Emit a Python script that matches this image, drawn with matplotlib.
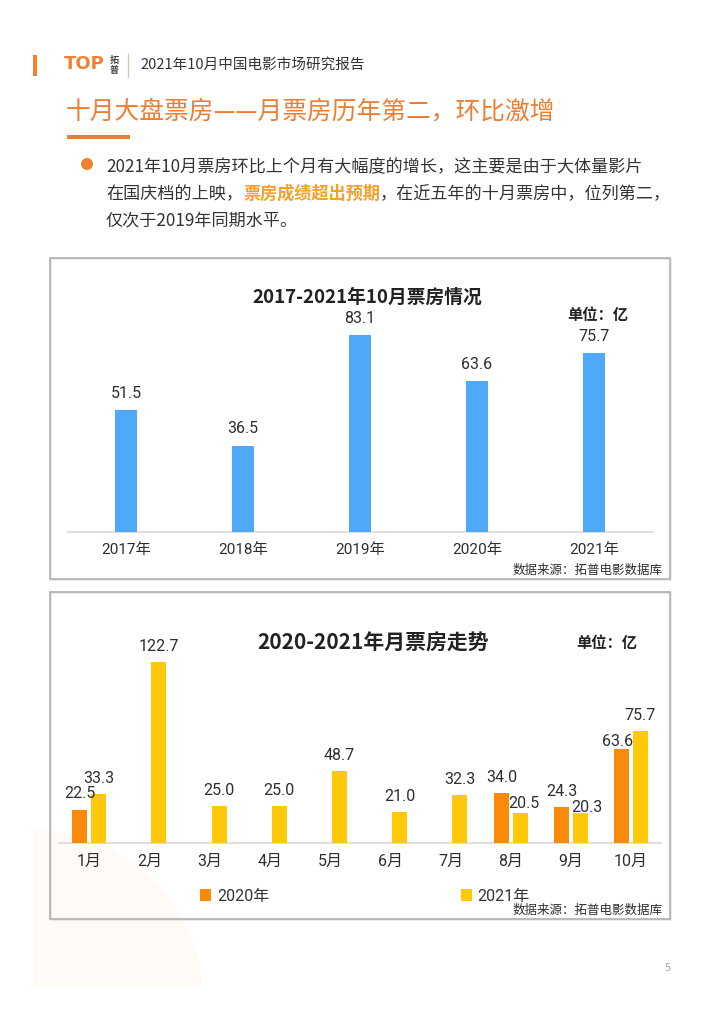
import matplotlib
matplotlib.use("Agg")
import matplotlib.pyplot as plt
from matplotlib.patches import Rectangle, Circle
import numpy as np

plt.rcParams['font.family'] = ['Noto Sans CJK SC', 'DejaVu Sans']

# ---- data ----
years = ['2017年', '2018年', '2019年', '2020年', '2021年']
oct_box = [51.5, 36.5, 83.1, 63.6, 75.7]

months = ['1月', '2月', '3月', '4月', '5月', '6月', '7月', '8月', '9月', '10月']
box_2020 = [22.5, np.nan, np.nan, np.nan, np.nan, np.nan, np.nan, 34.0, 24.3, 63.6]
box_2021 = [33.3, 122.7, 25.0, 25.0, 48.7, 21.0, 32.3, 20.5, 20.3, 75.7]
series_names = ['2020年', '2021年']

# label nudges (points) where the original moved crowded labels
nudge_2020 = {9: (-3, -6)}
nudge_2021 = {7: (3, -5), 8: (5, -7.5)}

ORANGE = '#ED7D31'
BLUE = '#4EAAF8'
C2020 = '#FA8A0A'
C2021 = '#FFC90A'
TXT = '#333333'
TICK = '#2E2E2E'
NUMFONT = ['Roboto', 'Noto Sans CJK SC', 'DejaVu Sans']
NUMWEIGHT = 'normal'

W, H = 724, 1024
fig = plt.figure(figsize=(W / 100, H / 100), dpi=100)
fig.patch.set_facecolor('white')


def fx(px):
    return px / W


def fy(py):
    return 1 - py / H


# faint decorative circle, lower left
deco = Circle((0.33, 0.24), 1.70, transform=fig.dpi_scale_trans,
              facecolor='#FFFAF6', edgecolor='none', zorder=-5)
clip = Rectangle((0.33, 0.37), 3.0, 3.0, transform=fig.dpi_scale_trans)
deco.set_clip_path(clip)
fig.patches.append(deco)

# ---- header ----
fig.patches.append(Rectangle((fx(33), fy(76)), fx(4), 21 / H, transform=fig.transFigure,
                             facecolor='#F08232', edgecolor='none'))
fig.text(fx(64), fy(64), 'TOP', color='#F08232', fontsize=13, fontweight='bold',
         family=['DejaVu Sans'], va='center', ha='left')
fig.text(fx(114), fy(60), '拓', color='#444444', fontsize=6.5, fontweight='bold', ha='center', va='center')
fig.text(fx(114), fy(71), '普', color='#444444', fontsize=6.5, fontweight='bold', ha='center', va='center')
fig.lines.append(plt.Line2D([fx(128), fx(128)], [fy(54), fy(77)], transform=fig.transFigure,
                            color='#D8C8BC', lw=1))
fig.text(fx(140), fy(65), '2021年10月中国电影市场研究报告', color=TXT, fontsize=10.5,
         va='center', ha='left')

fig.text(fx(66), fy(112), '十月大盘票房——月票房历年第二，环比激增', color=ORANGE,
         fontsize=17.8, va='center', ha='left')
fig.patches.append(Rectangle((fx(67), fy(139)), fx(63), 4.5 / H, transform=fig.transFigure,
                             facecolor=ORANGE, edgecolor='none'))

# bullet paragraph
fig.patches.append(Circle((0.87, (H - 164) / 100), 0.06, transform=fig.dpi_scale_trans,
                          facecolor='#F08232', edgecolor='none'))

renderer = fig.canvas.get_renderer()


def write_runs(x, y, runs, size=12.3):
    for s, color, weight in runs:
        t = fig.text(x, y, s, color=color, fontweight=weight, fontsize=size,
                     va='center', ha='left')
        bb = t.get_window_extent(renderer=renderer)
        x += bb.width / fig.bbox.width


write_runs(fx(106), fy(167), [('2021年10月票房环比上个月有大幅度的增长，这主要是由于大体量影片', TXT, 'normal')])
write_runs(fx(106), fy(194), [('在国庆档的上映，', TXT, 'normal'),
                              ('票房成绩超出预期', '#F5A02A', 'bold'),
                              ('，在近五年的十月票房中，位列第二，', TXT, 'normal')])
write_runs(fx(106), fy(220), [('仅次于2019年同期水平。', TXT, 'normal')])


# ---- chart frames ----
def frame(x0, y0, x1, y1):
    fig.patches.append(Rectangle((fx(x0 + 1), fy(y1 + 1)), fx(x1 - x0), (y1 - y0) / H,
                                 transform=fig.transFigure, facecolor='none',
                                 edgecolor='#E6E6E6', lw=1.2, zorder=1))
    fig.patches.append(Rectangle((fx(x0), fy(y1)), fx(x1 - x0), (y1 - y0) / H,
                                 transform=fig.transFigure, facecolor='none',
                                 edgecolor='#B0B0B0', lw=1.2, zorder=2))


frame(50, 258, 670, 579)
frame(50, 592, 670, 919)

# ---- top chart: October box office by year ----
ax1 = fig.add_axes([fx(67.5), fy(532), fx(585), (532 - 300) / H])
ax1.set_facecolor('none')
x1 = np.arange(len(years))
bars1 = ax1.bar(x1, oct_box, width=0.18, color=BLUE, zorder=3)
for b, v in zip(bars1, oct_box):
    ax1.annotate(f'{v:.1f}', (b.get_x() + b.get_width() / 2, v), xytext=(0, 6.5),
                 textcoords='offset points', ha='center', va='bottom',
                 fontsize=11.5, color=TICK, fontweight=NUMWEIGHT, family=NUMFONT)
ax1.set_xlim(-0.5, len(years) - 0.5)
ax1.set_ylim(0, 97.9)
ax1.set_xticks(x1)
ax1.set_xticklabels(years, fontsize=11, color=TICK, fontweight=NUMWEIGHT, family=NUMFONT)
ax1.tick_params(axis='x', length=0, pad=8)
ax1.set_yticks([])
for s in ['top', 'left', 'right']:
    ax1.spines[s].set_visible(False)
ax1.spines['bottom'].set_color('#D9D9D9')
ax1.spines['bottom'].set_linewidth(1.2)

fig.text(fx(367), fy(297), '2017-2021年10月票房情况', fontsize=13.5, fontweight='bold',
         color='#222222', ha='center', va='center')
fig.text(fx(598), fy(315), '单位：亿', fontsize=11, fontweight='bold', color='#222222',
         ha='center', va='center')
fig.text(fx(663), fy(570), '数据来源：拓普电影数据库', fontsize=9, color=TICK,
         ha='right', va='center')

# ---- bottom chart: monthly box office 2020 vs 2021 ----
ax2 = fig.add_axes([fx(59.2), fy(843), fx(602), (843 - 640) / H])
ax2.set_facecolor('none')
x2 = np.arange(len(months))
bw = 0.25
off = 0.155
bars_a = ax2.bar(x2 - off, box_2020, width=bw, color=C2020, zorder=3, label=series_names[0])
bars_b = ax2.bar(x2 + off, box_2021, width=bw, color=C2021, zorder=3, label=series_names[1])
for bars, vals, nudge in [(bars_a, box_2020, nudge_2020), (bars_b, box_2021, nudge_2021)]:
    for i, (b, v) in enumerate(zip(bars, vals)):
        if np.isnan(v):
            continue
        dx, dy = nudge.get(i, (0, 0))
        ax2.annotate(f'{v:.1f}', (b.get_x() + b.get_width() / 2, v), xytext=(dx, 6 + dy),
                     textcoords='offset points', ha='center', va='bottom',
                     fontsize=11.5, color=TICK, fontweight=NUMWEIGHT, family=NUMFONT)
ax2.set_xlim(-0.5, 9.5)
ax2.set_ylim(0, 137.6)
ax2.set_xticks(x2)
ax2.set_xticklabels(months, fontsize=11.5, color=TICK, fontweight=NUMWEIGHT, family=NUMFONT)
ax2.tick_params(axis='x', length=0, pad=8)
ax2.set_yticks([])
for s in ['top', 'left', 'right']:
    ax2.spines[s].set_visible(False)
ax2.spines['bottom'].set_color('#D9D9D9')
ax2.spines['bottom'].set_linewidth(1.2)

fig.text(fx(373), fy(643), '2020-2021年月票房走势', fontsize=15, fontweight='bold',
         color='#222222', ha='center', va='center')
fig.text(fx(607), fy(643), '单位：亿', fontsize=11, fontweight='bold', color='#222222',
         ha='center', va='center')

leg = ax2.legend(handles=[bars_a, bars_b], labels=series_names, loc='center left',
                 bbox_to_anchor=(fx(200), fy(896)), bbox_transform=fig.transFigure,
                 ncol=2, frameon=False, handlelength=0.7, handleheight=0.7,
                 handletextpad=0.35, columnspacing=12.0, borderpad=0, borderaxespad=0,
                 prop={'family': NUMFONT, 'weight': NUMWEIGHT, 'size': 11.5})
for t in leg.get_texts():
    t.set_color(TXT)

fig.text(fx(663), fy(910), '数据来源：拓普电影数据库', fontsize=9, color=TICK,
         ha='right', va='center')

fig.text(fx(668), fy(968), '5', fontsize=8, color='#A8A8A8', ha='center', va='center')

fig.savefig('out.png', dpi=100, facecolor='white')
